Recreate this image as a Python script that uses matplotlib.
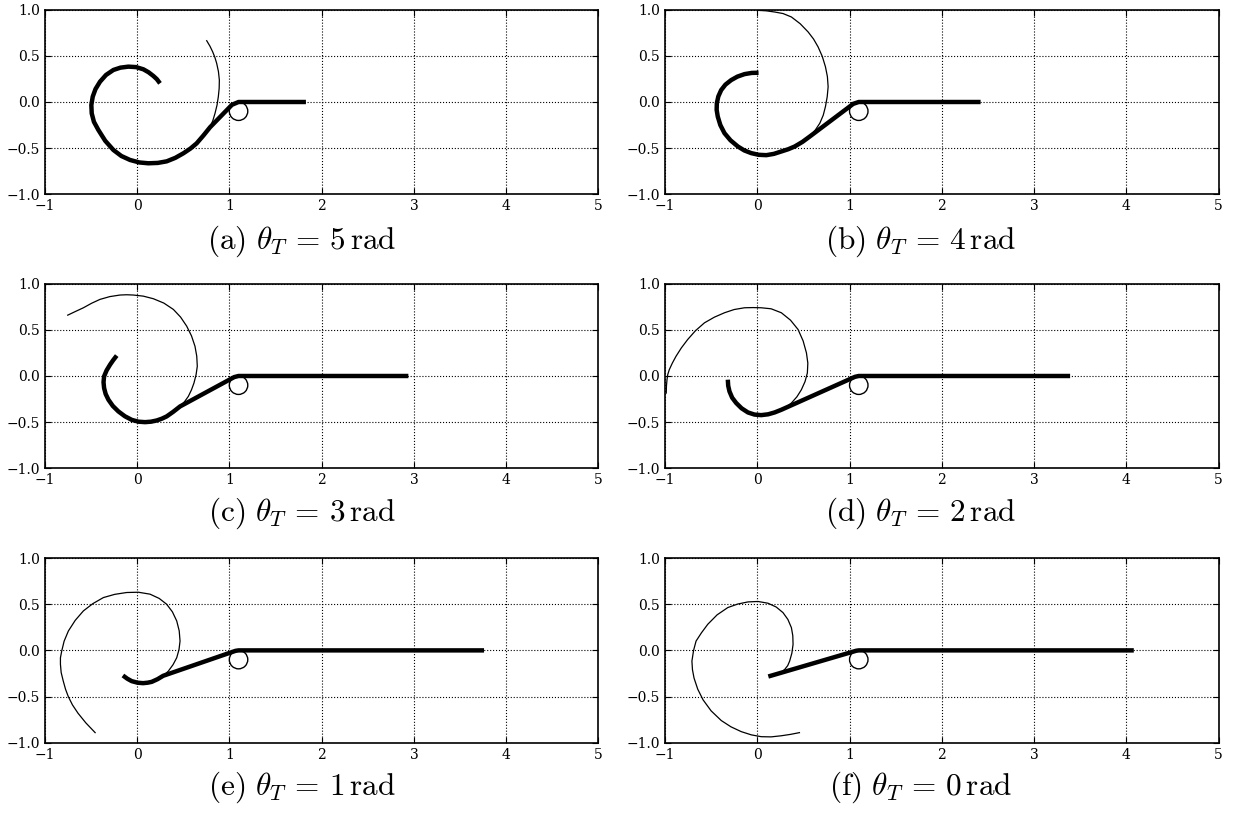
import matplotlib
matplotlib.use("Agg")
import matplotlib.pyplot as plt
from matplotlib.patches import Circle

plt.rcParams['font.family'] = 'DejaVu Serif'
plt.rcParams['mathtext.fontset'] = 'cm'
plt.rcParams['xtick.direction'] = 'in'
plt.rcParams['ytick.direction'] = 'in'
plt.rcParams['xtick.top'] = True
plt.rcParams['ytick.right'] = True

# pulley
pulley_center = (1.1, -0.1)
pulley_radius = 0.1

theta_T = [5, 4, 3, 2, 1, 0]
tags = ['a', 'b', 'c', 'd', 'e', 'f']

# far end of the rope past the pulley
rope_end = [1.83, 2.42, 2.94, 3.39, 3.76, 4.08]

# rope still wound on the drum, then the free span to the pulley (x, y)
wound_a = [(0.249, 0.202), (0.215, 0.247), (0.177, 0.282), (0.125, 0.322), (0.069, 0.354),
           (-0.010, 0.378), (-0.094, 0.383), (-0.180, 0.372), (-0.256, 0.347), (-0.336, 0.293),
           (-0.401, 0.220), (-0.450, 0.140), (-0.480, 0.058), (-0.495, -0.033), (-0.491, -0.123),
           (-0.467, -0.215), (-0.419, -0.303), (-0.345, -0.420), (-0.256, -0.520), (-0.170, -0.585),
           (-0.076, -0.628), (0.025, -0.655), (0.123, -0.664), (0.225, -0.660), (0.321, -0.643),
           (0.415, -0.605), (0.502, -0.556), (0.578, -0.505), (0.646, -0.448), (0.720, -0.362),
           (0.791, -0.274), (1.029, -0.030), (1.1, 0.0)]
wound_b = [(0.014, 0.317), (-0.060, 0.315), (-0.138, 0.302), (-0.215, 0.275), (-0.283, 0.237),
           (-0.345, 0.188), (-0.391, 0.129), (-0.422, 0.060), (-0.438, -0.014), (-0.440, -0.085),
           (-0.428, -0.158), (-0.400, -0.250), (-0.355, -0.338), (-0.290, -0.415), (-0.210, -0.482),
           (-0.140, -0.525), (-0.065, -0.554), (0.015, -0.572), (0.098, -0.576), (0.180, -0.562),
           (0.261, -0.536), (0.335, -0.512), (0.406, -0.482), (0.490, -0.432), (0.569, -0.374),
           (1.040, -0.020), (1.1, 0.0)]
wound_c = [(-0.220, 0.221), (-0.258, 0.172), (-0.292, 0.123), (-0.330, 0.060), (-0.357, -0.004),
           (-0.363, -0.067), (-0.357, -0.130), (-0.340, -0.195), (-0.310, -0.257), (-0.262, -0.325),
           (-0.202, -0.384), (-0.132, -0.436), (-0.058, -0.475), (0.015, -0.495), (0.087, -0.500),
           (0.152, -0.495), (0.213, -0.482), (0.268, -0.463), (0.321, -0.438), (0.392, -0.388),
           (0.466, -0.330), (1.053, -0.012), (1.1, 0.0)]
wound_d = [(-0.319, -0.040), (-0.315, -0.105), (-0.301, -0.167), (-0.272, -0.235), (-0.228, -0.293),
           (-0.170, -0.350), (-0.101, -0.395), (-0.030, -0.418), (0.043, -0.424), (0.118, -0.415),
           (0.188, -0.395), (0.261, -0.366), (1.059, -0.009), (1.1, 0.0)]
wound_e = [(-0.153, -0.272), (-0.105, -0.307), (-0.058, -0.333), (0.005, -0.350), (0.066, -0.355),
           (0.115, -0.350), (0.159, -0.341), (0.222, -0.312), (0.284, -0.275), (1.067, -0.005),
           (1.1, 0.0)]
wound_f = [(0.120, -0.283), (1.072, -0.004), (1.1, 0.0)]

# path traced by the rope end (involute)
trace_a = [(0.791, -0.274), (0.822, -0.200), (0.845, -0.123), (0.867, -0.033), (0.881, 0.058),
           (0.890, 0.148), (0.892, 0.238), (0.882, 0.330), (0.863, 0.419), (0.843, 0.485),
           (0.819, 0.545), (0.790, 0.605), (0.755, 0.664)]
trace_b = [(0.569, -0.374), (0.628, -0.305), (0.678, -0.230), (0.715, -0.143), (0.739, -0.050),
           (0.758, 0.057), (0.768, 0.165), (0.760, 0.275), (0.739, 0.381), (0.705, 0.493),
           (0.659, 0.597), (0.610, 0.682), (0.551, 0.759), (0.465, 0.848), (0.370, 0.921),
           (0.280, 0.958), (0.188, 0.975), (0.095, 0.988), (0.007, 0.993)]
trace_c = [(0.466, -0.330), (0.515, -0.278), (0.556, -0.221), (0.590, -0.150), (0.617, -0.076),
           (0.640, 0.015), (0.653, 0.105), (0.647, 0.215), (0.628, 0.322), (0.590, 0.435),
           (0.538, 0.540), (0.472, 0.638), (0.394, 0.721), (0.290, 0.790), (0.177, 0.837),
           (0.068, 0.865), (-0.040, 0.877), (-0.112, 0.880), (-0.184, 0.877), (-0.295, 0.860),
           (-0.401, 0.830), (-0.492, 0.788), (-0.581, 0.739), (-0.665, 0.700), (-0.751, 0.659)]
trace_d = [(0.261, -0.366), (0.318, -0.335), (0.370, -0.293), (0.430, -0.225), (0.478, -0.149),
           (0.518, -0.060), (0.543, 0.033), (0.548, 0.140), (0.533, 0.250), (0.497, 0.380),
           (0.442, 0.504), (0.360, 0.605), (0.261, 0.685), (0.150, 0.728), (0.043, 0.739),
           (-0.048, 0.741), (-0.138, 0.739), (-0.250, 0.720), (-0.355, 0.685), (-0.465, 0.637),
           (-0.572, 0.576), (-0.670, 0.490), (-0.754, 0.395), (-0.822, 0.305), (-0.880, 0.214),
           (-0.920, 0.140), (-0.953, 0.069), (-0.970, 0.015), (-0.978, -0.040), (-0.984, -0.110),
           (-0.986, -0.185)]
trace_e = [(0.284, -0.275), (0.339, -0.225), (0.390, -0.155), (0.430, -0.080), (0.455, 0.010),
           (0.466, 0.101), (0.457, 0.212), (0.430, 0.319), (0.383, 0.418), (0.321, 0.500),
           (0.240, 0.563), (0.141, 0.609), (0.015, 0.630), (-0.112, 0.627), (-0.242, 0.607),
           (-0.365, 0.572), (-0.478, 0.507), (-0.581, 0.428), (-0.670, 0.325), (-0.744, 0.210),
           (-0.790, 0.100), (-0.816, -0.007), (-0.830, -0.080), (-0.830, -0.150), (-0.822, -0.240),
           (-0.800, -0.330), (-0.775, -0.420), (-0.745, -0.500), (-0.700, -0.590), (-0.640, -0.680),
           (-0.555, -0.785), (-0.454, -0.891)]
trace_f = [(0.247, -0.247), (0.297, -0.207), (0.330, -0.165), (0.351, -0.116), (0.375, -0.030),
           (0.388, 0.065), (0.385, 0.160), (0.370, 0.246), (0.332, 0.335), (0.279, 0.409),
           (0.205, 0.470), (0.116, 0.511), (0.008, 0.530), (-0.101, 0.525), (-0.212, 0.502),
           (-0.319, 0.464), (-0.435, 0.385), (-0.536, 0.283), (-0.605, 0.190), (-0.663, 0.101),
           (-0.690, 0.000), (-0.708, -0.116), (-0.702, -0.210), (-0.685, -0.300), (-0.645, -0.420),
           (-0.587, -0.536), (-0.500, -0.655), (-0.390, -0.760), (-0.285, -0.828), (-0.174, -0.880),
           (-0.065, -0.915), (0.043, -0.935), (0.150, -0.937), (0.260, -0.925), (0.360, -0.910),
           (0.457, -0.891)]

wound = [wound_a, wound_b, wound_c, wound_d, wound_e, wound_f]
trace = [trace_a, trace_b, trace_c, trace_d, trace_e, trace_f]

fig = plt.figure(figsize=(12.36, 8.14), dpi=100)
lefts = [0.0362, 0.538]
bottoms = [0.7613, 0.4247, 0.0876]
cap_x = [0.2443, 0.745]
cap_y = [0.704, 0.369, 0.033]

for i in range(6):
    r, c = i // 2, i % 2
    ax = fig.add_axes([lefts[c], bottoms[r], 0.448, 0.2268])
    tx, ty = zip(*trace[i])
    ax.plot(tx, ty, color='k', lw=0.9, zorder=3)
    ax.add_patch(Circle(pulley_center, pulley_radius, fc='white', ec='k', lw=1.0, zorder=4))
    wx, wy = zip(*wound[i])
    ax.plot(list(wx) + [rope_end[i]], list(wy) + [0.0], color='k', lw=3.2,
            solid_joinstyle='round', solid_capstyle='butt', zorder=5)
    ax.set_xlim(-1, 5)
    ax.set_ylim(-1, 1)
    ax.set_xticks([-1, 0, 1, 2, 3, 4, 5])
    ax.set_yticks([-1.0, -0.5, 0.0, 0.5, 1.0])
    ax.set_yticklabels(['\u22121.0', '\u22120.5', '0.0', '0.5', '1.0'])
    ax.set_xticklabels(['\u22121', '0', '1', '2', '3', '4', '5'])
    ax.tick_params(labelsize=10, length=4, width=0.8)
    ax.grid(True, linestyle=':', color='k', lw=0.8)
    for s in ax.spines.values():
        s.set_linewidth(1.2)
    fig.text(cap_x[c], cap_y[r],
             r'$\mathrm{(%s)}\ \theta_T \,=\, %d\,\mathrm{rad}$' % (tags[i], theta_T[i]),
             ha='center', va='center', fontsize=22.5)

plt.savefig('out.png', dpi=100, facecolor='white')
